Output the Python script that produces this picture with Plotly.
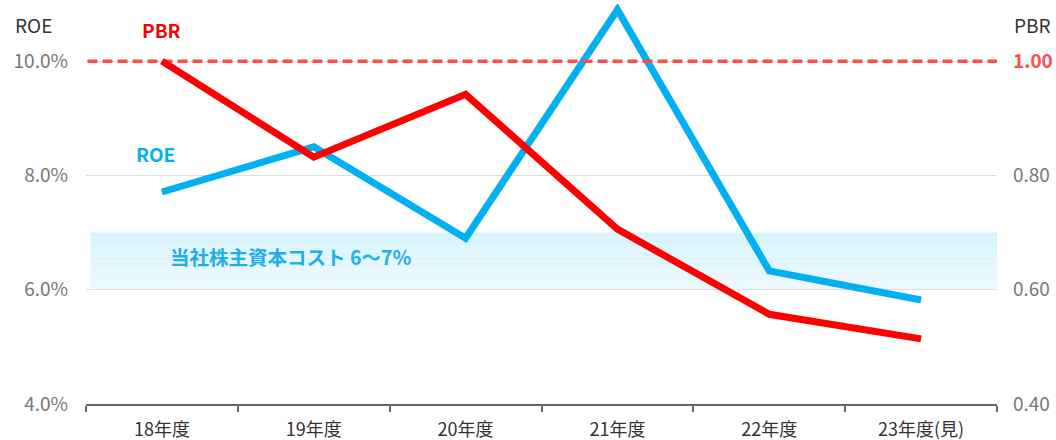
import plotly.graph_objects as go

categories = ["18年度", "19年度", "20年度", "21年度", "22年度", "23年度(見)"]
roe_values = [7.71, 8.50, 6.90, 10.90, 6.33, 5.82]
pbr_values = [1.00, 0.832, 0.942, 0.706, 0.557, 0.514]
roe_ticks = [4, 6, 8, 10]
roe_ticktext = ["4.0%", "6.0%", "8.0%", "10.0%"]
pbr_ticks = [0.4, 0.6, 0.8, 1.0]
pbr_ticktext = ["0.40", "0.60", "0.80", '<span style="color:#ff4d4d"><b>1.00</b></span>']
cost_low, cost_high = 6, 7
pbr_ref = 1.0

ROE_C = "#00b0f0"
PBR_C = "#ff0000"
FONT = "Noto Sans CJK JP"

xpos = list(range(len(categories)))
x_lo, x_hi = -0.5, len(categories) - 0.5

fig = go.Figure()

# gradient band
n = 12
for i in range(n):
    y0 = cost_low + (cost_high - cost_low) * i / n
    y1 = cost_low + (cost_high - cost_low) * (i + 1) / n
    t = (i + 0.5) / n
    r = int(240 + (214 - 240) * t)
    g = int(250 + (243 - 250) * t)
    b = int(254 + (252 - 254) * t)
    fig.add_shape(type="rect", xref="x", yref="y", x0=x_lo + 0.03, x1=x_hi, y0=y0, y1=y1,
                  fillcolor=f"rgb({r},{g},{b})", line=dict(width=0), layer="below")

fig.add_trace(go.Scatter(x=xpos, y=roe_values, mode="lines",
                         line=dict(color=ROE_C, width=7), xaxis="x", yaxis="y",
                         showlegend=False))
fig.add_trace(go.Scatter(x=[x_lo + 0.01, x_hi], y=[pbr_ref, pbr_ref], mode="lines",
                         line=dict(color="#ff4d4d", width=3.5, dash="10px,5px"),
                         xaxis="x2", yaxis="y2", showlegend=False))
fig.add_trace(go.Scatter(x=xpos, y=pbr_values, mode="lines",
                         line=dict(color=PBR_C, width=7), xaxis="x2", yaxis="y2",
                         showlegend=False))

fig.add_annotation(x=0, y=10.56, xref="x", yref="y", text="<b>PBR</b>", showarrow=False,
                   font=dict(color=PBR_C, size=19, family=FONT))
fig.add_annotation(x=-0.045, y=8.39, xref="x", yref="y", text="<b>ROE</b>", showarrow=False,
                   font=dict(color=ROE_C, size=19, family=FONT))
fig.add_annotation(x=0.85, y=6.58, xref="x", yref="y", text="<b>当社株主資本コスト 6〜7%</b>",
                   showarrow=False, font=dict(color="#1eaee8", size=19.5, family=FONT))
fig.add_annotation(x=(54 - 86) / 911, y=1 - (25 - 4) / 400, xref="paper", yref="paper",
                   xanchor="right", yanchor="middle", text="ROE", showarrow=False,
                   font=dict(color="#333333", size=19, family=FONT))
fig.add_annotation(x=(1012 - 86) / 911, y=1 - (25 - 4) / 400, xref="paper", yref="paper",
                   xanchor="left", yanchor="middle", text="PBR", showarrow=False,
                   font=dict(color="#333333", size=19, family=FONT))

fig.update_layout(
    width=1056, height=440,
    margin=dict(l=86, r=59, t=4, b=36, autoexpand=False),
    plot_bgcolor="white", paper_bgcolor="white",
    font=dict(family=FONT, size=17, color="#777777"),
    xaxis=dict(range=[x_lo, x_hi], tickvals=xpos, ticktext=categories, showgrid=False,
               showline=True, linecolor="#666666", linewidth=2, ticks="", zeroline=False,
               ticklabelstandoff=8, automargin=False,
               tickfont=dict(color="#333333", size=18),
               minor=dict(ticks="outside", tick0=0.5, dtick=1, ticklen=6,
                          tickcolor="#666666", tickwidth=2, showgrid=False)),
    xaxis2=dict(range=[x_lo, x_hi], overlaying="x", visible=False),
    yaxis=dict(range=[4, 11], tickvals=roe_ticks, ticktext=roe_ticktext, showgrid=True,
               gridcolor="#dddddd", gridwidth=1, zeroline=False, showline=False,
               automargin=False,
               ticklabelstandoff=17, tickfont=dict(color="#777777", size=19)),
    yaxis2=dict(range=[0.4, 1.1], tickvals=pbr_ticks, ticktext=pbr_ticktext, overlaying="y",
                side="right", showgrid=False, zeroline=False, showline=False,
                automargin=False,
                ticklabelstandoff=15, tickfont=dict(color="#777777", size=19)),
)

fig.write_html("out.html")
